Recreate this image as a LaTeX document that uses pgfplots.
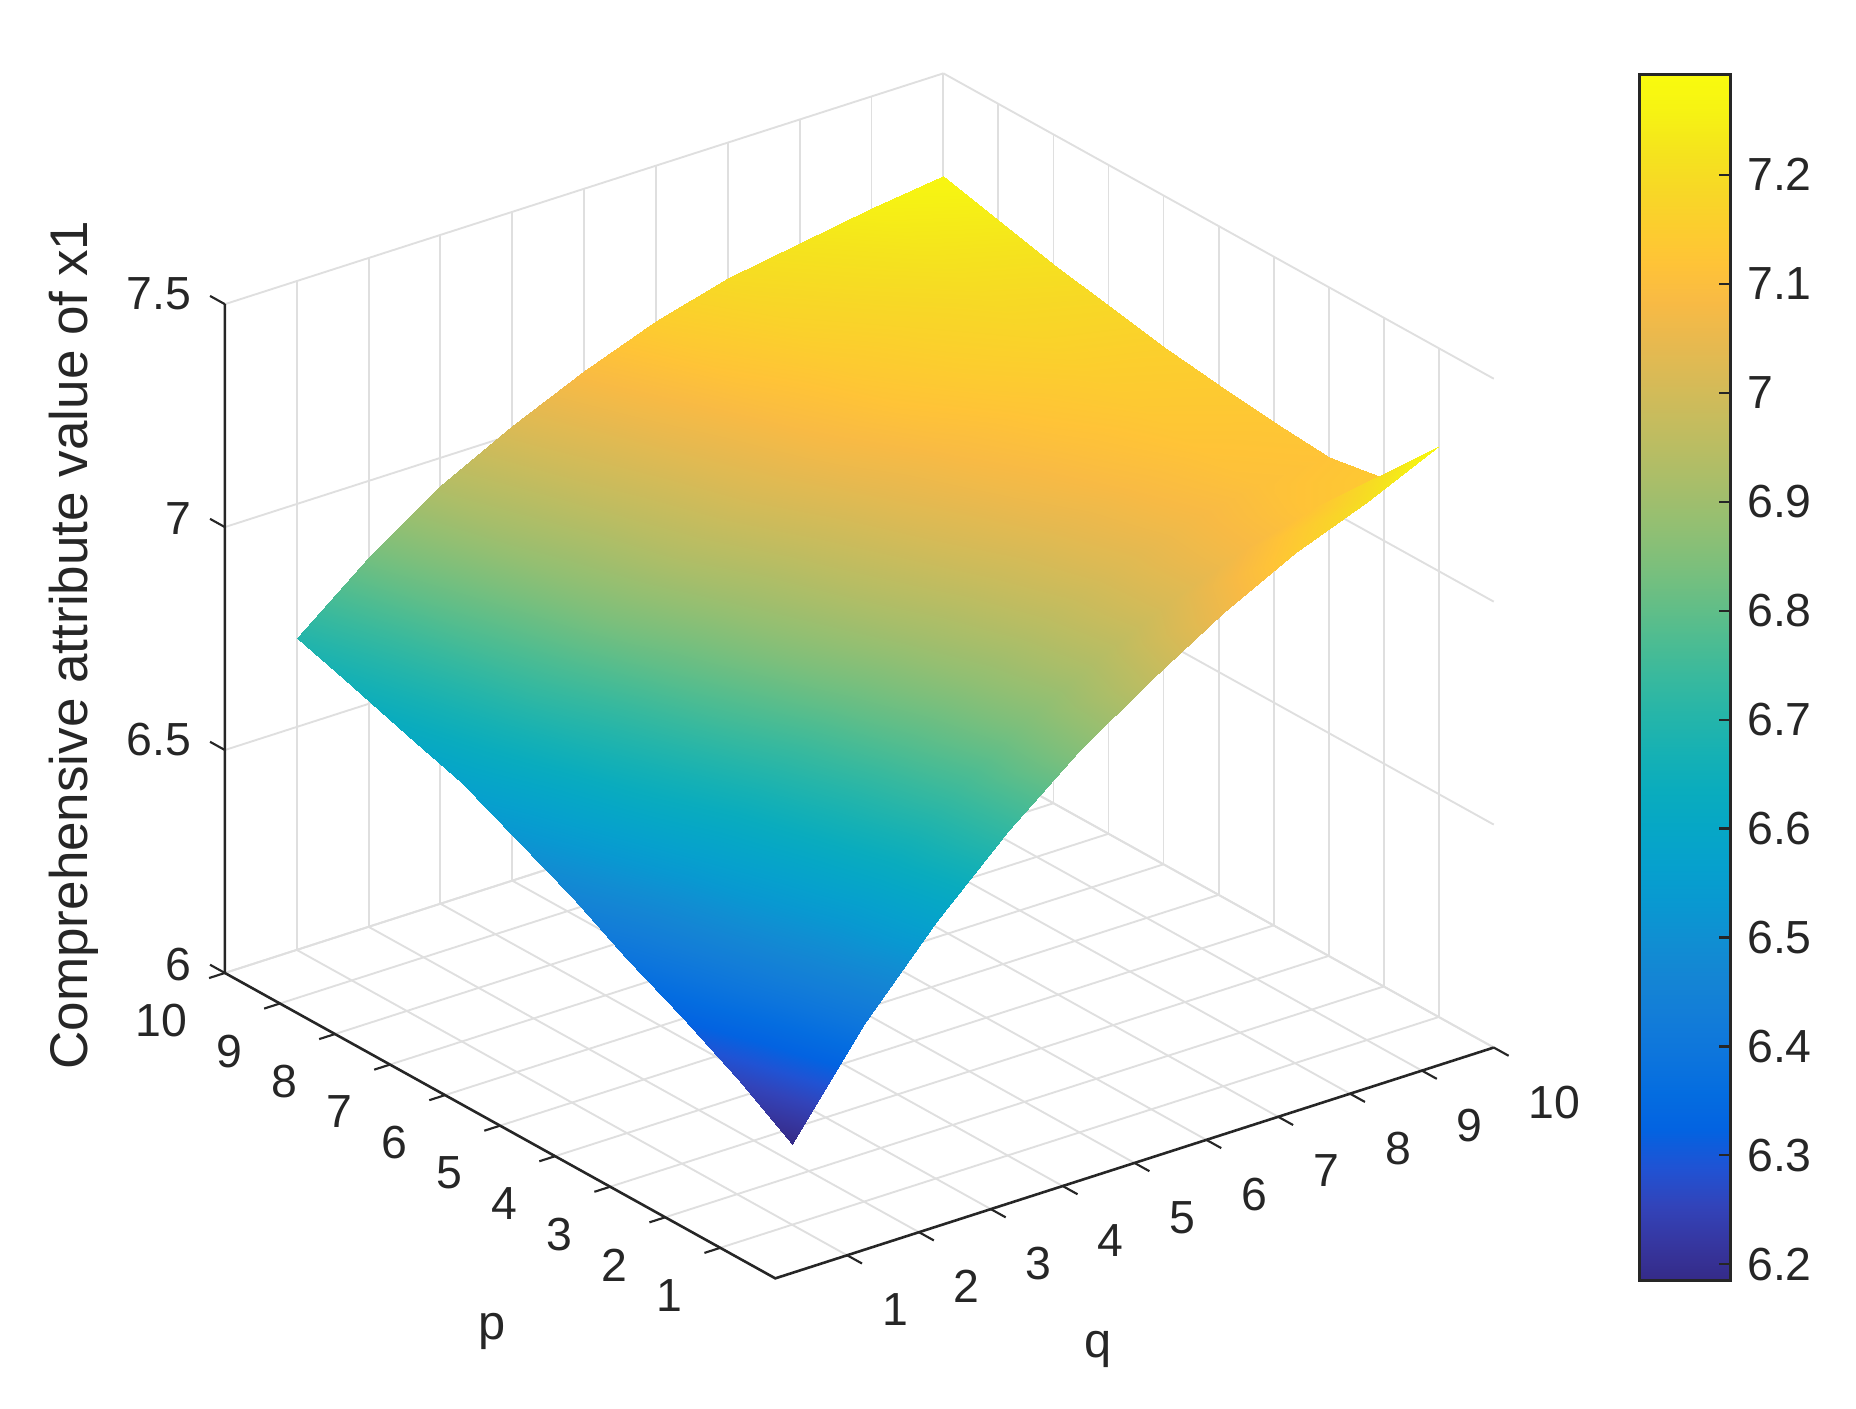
\documentclass[border=0pt]{standalone}
\usepackage{fontspec}
\setmainfont{Liberation Sans}
\usepackage{pgfplots}
\pgfplotsset{compat=1.18}
\definecolor{txt}{rgb}{0.15,0.15,0.15}
\pgfplotsset{
  colormap={parula}{
    rgb=(0.2081,0.1663,0.5292) rgb=(0.2123,0.2138,0.6270) rgb=(0.1959,0.2645,0.7279)
    rgb=(0.1253,0.3242,0.8303) rgb=(0.0117,0.3875,0.8820) rgb=(0.0165,0.4266,0.8786)
    rgb=(0.0498,0.4586,0.8641) rgb=(0.0723,0.4887,0.8467) rgb=(0.0793,0.5200,0.8312)
    rgb=(0.0641,0.5570,0.8240) rgb=(0.0343,0.5966,0.8199) rgb=(0.0239,0.6287,0.8038)
    rgb=(0.0228,0.6535,0.7768) rgb=(0.0384,0.6743,0.7436) rgb=(0.0843,0.6928,0.7062)
    rgb=(0.1453,0.7098,0.6646) rgb=(0.2178,0.7250,0.6193) rgb=(0.3022,0.7376,0.5712)
    rgb=(0.3953,0.7459,0.5244) rgb=(0.4871,0.7491,0.4840) rgb=(0.5709,0.7485,0.4494)
    rgb=(0.6473,0.7456,0.4188) rgb=(0.7184,0.7411,0.3905) rgb=(0.7858,0.7356,0.3633)
    rgb=(0.8507,0.7299,0.3360) rgb=(0.9139,0.7258,0.3063) rgb=(0.9739,0.7314,0.2666)
    rgb=(0.9990,0.7653,0.2164) rgb=(0.9880,0.8066,0.1794) rgb=(0.9697,0.8481,0.1475)
    rgb=(0.9589,0.8949,0.1132) rgb=(0.9661,0.9514,0.0755) rgb=(0.9763,0.9831,0.0538)
  },
  /pgf/number format/assume math mode=true,
}
\newcommand{\tickfont}{\fontsize{9.8}{12}\selectfont}
\begin{document}
\begin{tikzpicture}
\useasboundingbox (0,0) rectangle (392pt,297.5pt);
\begin{axis}[
    at={(47.5pt,27.5pt)},
    anchor=south west,
    x={(15.175pt,4.875pt)},
    y={(-11.625pt,6.45pt)},
    z={(0pt,94.17pt)},
    xmin=0, xmax=10, ymin=0, ymax=10, zmin=6, zmax=7.5,
    xtick={1,...,10}, ytick={1,...,10}, ztick={6,6.5,7,7.5},
    zticklabels={6,6.5,7,7.5},
    grid=major,
    major grid style={gray!25, line width=0.4pt},
    axis line style={draw=none},
    tick align=outside,
    tick pos=left,
    major tick length=3.6pt,
    tick style={draw=none},
    tick label style={font=\tickfont, text=txt},
    xticklabel style={anchor=north west, xshift=0.7pt, yshift=-2.8pt},
    yticklabel style={anchor=north east, xshift=-1pt, yshift=-2pt},
    zticklabel style={xshift=-0.5pt, yshift=-0.5pt},
    point meta min=6.185, point meta max=7.292,
    clip=false,
]
\addplot3[surf, shader=interp, mesh/cols=10] coordinates {
(1,1,6.18) (2,1,6.398) (3,1,6.576) (4,1,6.728) (5,1,6.856) (6,1,6.964) (7,1,7.062) (8,1,7.144) (9,1,7.207) (10,1,7.28)

(1,2,6.26) (2,2,6.454) (3,2,6.61) (4,2,6.741) (5,2,6.849) (6,2,6.937) (7,2,7.015) (8,2,7.077) (9,2,7.122) (10,2,7.14)

(1,3,6.33) (2,3,6.511) (3,3,6.655) (4,3,6.774) (5,3,6.871) (6,3,6.951) (7,3,7.019) (8,3,7.071) (9,3,7.108) (10,3,7.12)

(1,4,6.39) (2,4,6.561) (3,4,6.697) (4,4,6.81) (5,4,6.902) (6,4,6.976) (7,4,7.038) (8,4,7.086) (9,4,7.119) (10,4,7.13)

(1,5,6.46) (2,5,6.621) (3,5,6.75) (4,5,6.854) (5,5,6.939) (6,5,7.008) (7,5,7.065) (8,5,7.105) (9,5,7.134) (10,5,7.144)

(1,6,6.52) (2,6,6.673) (3,6,6.794) (4,6,6.892) (5,6,6.972) (6,6,7.038) (7,6,7.089) (8,6,7.125) (9,6,7.151) (10,6,7.16)

(1,7,6.58) (2,7,6.725) (3,7,6.841) (4,7,6.934) (5,7,7.009) (6,7,7.071) (7,7,7.119) (8,7,7.151) (9,7,7.175) (10,7,7.185)

(1,8,6.62) (2,8,6.76) (3,8,6.872) (4,8,6.961) (5,8,7.035) (6,8,7.096) (7,8,7.142) (8,8,7.172) (9,8,7.196) (10,8,7.21)

(1,9,6.66) (2,9,6.795) (3,9,6.905) (4,9,6.99) (5,9,7.063) (6,9,7.124) (7,9,7.17) (8,9,7.198) (9,9,7.224) (10,9,7.24)

(1,10,6.70) (2,10,6.83) (3,10,6.937) (4,10,7.02) (5,10,7.091) (6,10,7.152) (7,10,7.196) (8,10,7.223) (9,10,7.25) (10,10,7.27)
};
\draw[txt, line width=0.55pt] (axis cs:0,10,7.5) -- (axis cs:0,10,6) -- (axis cs:0,0,6) -- (axis cs:10,0,6);
% ticks by hand, pgfplots puts extra ones on the back edges
\pgfplotsinvokeforeach{1,...,10}{
  \draw[txt, line width=0.45pt] (axis cs:0,#1,6) -- (axis cs:-0.22,#1,6);
  \draw[txt, line width=0.45pt] (axis cs:#1,0,6) -- (axis cs:#1,-0.27,6);
}
\pgfplotsinvokeforeach{6,6.5,7,7.5}{
  \draw[txt, line width=0.45pt] (axis cs:0,10,#1) -- (axis cs:0,10.27,#1);
}
\end{axis}
\begin{axis}[
    at={(346.25pt,27pt)},
    anchor=south west,
    scale only axis,
    width=19.25pt, height=254.75pt,
    xmin=0, xmax=1, ymin=6.185, ymax=7.292,
    xtick=\empty,
    ytick={6.2,6.3,6.4,6.5,6.6,6.7,6.8,6.9,7,7.1,7.2},
    yticklabels={6.2,6.3,6.4,6.5,6.6,6.7,6.8,6.9,7,7.1,7.2},
    yticklabel pos=right,
    ytick pos=right,
    tick align=inside,
    major tick length=2.5pt,
    tick style={color=txt, line width=0.45pt},
    tick label style={font=\tickfont, text=txt},
    axis line style={color=black!85, line width=0.6pt},
    point meta min=6.185, point meta max=7.292,
    axis on top,
]
\addplot[surf, shader=interp, mesh/cols=2, point meta=y] coordinates {
(0,6.185) (1,6.185)

(0,7.292) (1,7.292)
};
\end{axis}
\node[rotate=90, text=txt, font=\fontsize{11.2}{13}\selectfont] at (15.5pt,161.25pt) {Comprehensive attribute value of x1};
\node[text=txt, font=\fontsize{10.3}{12}\selectfont] at (104pt,16.3pt) {p};
\node[text=txt, font=\fontsize{10.3}{12}\selectfont] at (232pt,12.5pt) {q};
\end{tikzpicture}
\end{document}
